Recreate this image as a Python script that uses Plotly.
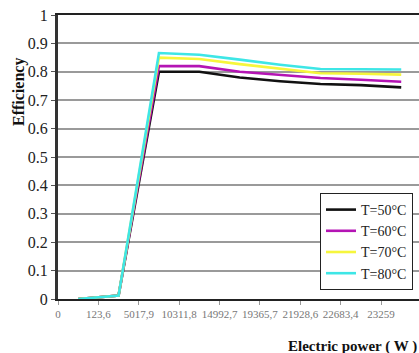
import plotly.graph_objects as go

# Category labels on the x axis (as printed, decimal comma)
x_labels = ["0", "123,6", "5017,9", "10311,8", "14992,7", "19365,7", "21928,6", "22683,4", "23259"]

# Efficiency values per temperature (one per category interval)
eff_50 = [0.0, 0.012, 0.800, 0.800, 0.780, 0.767, 0.757, 0.753, 0.745]
eff_60 = [0.0, 0.012, 0.820, 0.820, 0.800, 0.788, 0.778, 0.772, 0.765]
eff_70 = [0.0, 0.012, 0.850, 0.845, 0.827, 0.810, 0.795, 0.793, 0.790]
eff_80 = [0.0, 0.012, 0.866, 0.860, 0.843, 0.825, 0.810, 0.810, 0.808]

series = [
    ("T=50°C", eff_50, "#111111"),
    ("T=60°C", eff_60, "#b414b4"),
    ("T=70°C", eff_70, "#f6f63c"),
    ("T=80°C", eff_80, "#3ee6e6"),
]

# data points sit in the middle of each category interval
x_pos = [i + 0.5 for i in range(len(x_labels))]

fig = go.Figure()
for name, vals, col in series:
    fig.add_trace(go.Scatter(x=x_pos, y=vals, mode="lines", name=name,
                             line=dict(color=col, width=2.6)))

serif = "Liberation Serif"

fig.update_layout(
    width=419, height=353,
    margin=dict(l=58, r=0, t=15, b=54),
    paper_bgcolor="white", plot_bgcolor="white",
    font=dict(family=serif, color="#222"),
    showlegend=True,
    legend=dict(
        x=(413 - 58) / 361, y=(299 - 193) / 284, xanchor="right", yanchor="top",
        bgcolor="white", bordercolor="#222", borderwidth=1,
        font=dict(family=serif, size=14, color="#222"),
        itemwidth=30, tracegroupgap=0,
    ),
    xaxis=dict(
        range=[0, 8.94],
        tickmode="array", tickvals=list(range(len(x_labels))), ticktext=x_labels,
        tickangle=0,
        showgrid=False, zeroline=False,
        showline=True, linecolor="#222", linewidth=2, mirror=True,
        ticks="outside", ticklen=4, tickcolor="#999", tickwidth=1,
        tickfont=dict(family=serif, size=11, color="#777"),
    ),
    yaxis=dict(
        range=[0, 1], dtick=0.1, tickformat=".1~f",
        showgrid=True, gridcolor="#9a9a9a", gridwidth=2,
        zeroline=False,
        showline=True, linecolor="#333", linewidth=3,
        ticks="outside", ticklen=4, tickcolor="#555", tickwidth=1,
        ticklabelstandoff=0,
        tickfont=dict(family=serif, size=16, color="#222"),
    ),
    annotations=[
        dict(text="<b>Efficiency</b>", xref="paper", yref="paper",
             x=(19 - 58) / 361, y=(299 - 92) / 284,
             xanchor="center", yanchor="middle", textangle=-90, showarrow=False,
             font=dict(family=serif, size=16, color="#111")),
        dict(text="<b>Electric power ( W )</b>", xref="paper", yref="paper",
             x=(419 - 58) / 361, y=(299 - 346) / 284,
             xanchor="right", yanchor="middle", align="right", showarrow=False,
             font=dict(family=serif, size=15, color="#111")),
    ],
)

fig.write_html("out.html")
